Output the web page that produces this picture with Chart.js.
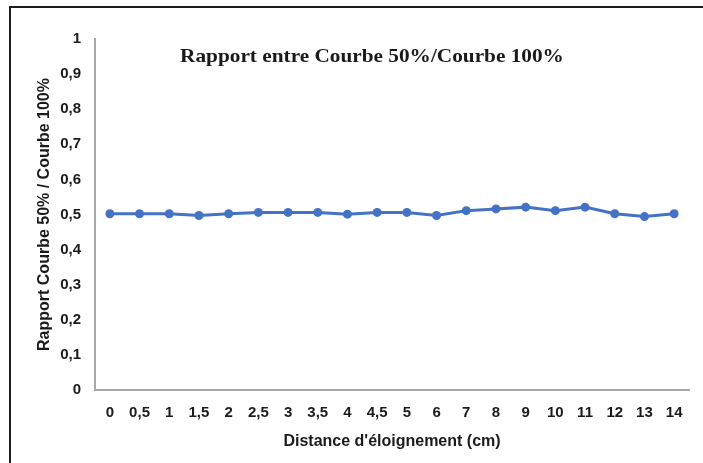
<!DOCTYPE html>
<html lang="fr">
<head>
    <meta charset="UTF-8">
    <title>Rapport entre Courbe 50%/Courbe 100%</title>
    <style>
        html, body { margin: 0; padding: 0; background: #fff; }
        #cadre {
            position: relative;
            width: 703px;
            height: 463px;
        }
        #bord {
            position: absolute;
            left: 9px;
            top: 6px;
            right: 0;
            bottom: 0;
            border-top: 2px solid #1c1c1c;
            border-left: 2px solid #1c1c1c;
            pointer-events: none;
        }
        canvas { position: absolute; left: 0; top: 0; }
    </style>
</head>
<body>
    <div id="cadre">
        <canvas id="graphe" width="703" height="463"></canvas>
        <div id="bord"></div>
    </div>

    <script src="https://cdn.jsdelivr.net/npm/chart.js"></script>

    <script>
        // distances (cm) et rapport mesuré
        const distances = ["0", "0,5", "1", "1,5", "2", "2,5", "3", "3,5", "4", "4,5", "5", "6", "7", "8", "9", "10", "11", "12", "13", "14"];
        const rapport = [0.502, 0.502, 0.502, 0.497, 0.502, 0.506, 0.506, 0.506, 0.501, 0.506, 0.506, 0.497, 0.511, 0.516, 0.521, 0.511, 0.521, 0.502, 0.494, 0.502];
        const ticksY = [0, 0.1, 0.2, 0.3, 0.4, 0.5, 0.6, 0.7, 0.8, 0.9, 1];

        const bleu = '#4472C4';
        const texte = '#1a1a1a';
        const police = "'Liberation Sans', Arial, sans-serif";

        // titre posé dans la zone du graphe, un peu élargi
        const titreInterne = {
            id: 'titreInterne',
            afterDraw(chart) {
                const { ctx, chartArea } = chart;
                const cx = (chartArea.left + chartArea.right) / 2 - 20;
                ctx.save();
                ctx.translate(cx, chartArea.top + 18);
                ctx.scale(1.12, 1);
                ctx.font = "bold 19px 'Liberation Serif', 'Times New Roman', serif";
                ctx.fillStyle = texte;
                ctx.textAlign = 'center';
                ctx.textBaseline = 'middle';
                ctx.fillText('Rapport entre Courbe 50%/Courbe 100%', 0, 0);
                ctx.restore();
            }
        };

        new Chart(document.getElementById('graphe'), {
            type: 'line',
            data: {
                labels: distances,
                datasets: [{
                    label: 'Rapport',
                    data: rapport,
                    borderColor: bleu,
                    backgroundColor: bleu,
                    borderWidth: 3,
                    pointRadius: 4.5,
                    pointHoverRadius: 4.5,
                    pointBackgroundColor: bleu,
                    pointBorderWidth: 0,
                    tension: 0
                }]
            },
            options: {
                responsive: false,
                animation: false,
                layout: { padding: { left: 10, right: 14, top: 39, bottom: 0 } },
                plugins: {
                    legend: { display: false },
                    tooltip: { enabled: false }
                },
                scales: {
                    x: {
                        offset: true,
                        grid: { display: false, drawTicks: false },
                        border: { display: true, color: '#a8a8a8', width: 2 },
                        ticks: {
                            color: texte,
                            padding: 14,
                            maxRotation: 0,
                            autoSkip: false,
                            font: { family: police, size: 15, weight: 'bold' }
                        },
                        title: {
                            display: true,
                            text: "Distance d'éloignement (cm)",
                            color: texte,
                            padding: { top: 0, bottom: 12 },
                            font: { family: police, size: 16, weight: 'bold' }
                        },
                        afterFit(scale) { scale.height = 73; }
                    },
                    y: {
                        min: 0,
                        max: 1,
                        afterBuildTicks(scale) {
                            scale.ticks = ticksY.map(v => ({ value: v }));
                        },
                        grid: { display: false, drawTicks: false },
                        border: { display: true, color: '#a8a8a8', width: 2 },
                        ticks: {
                            color: texte,
                            padding: 14,
                            font: { family: police, size: 15, weight: 'bold' },
                            callback: v => String(v).replace('.', ',')
                        },
                        title: {
                            display: true,
                            text: 'Rapport Courbe 50% / Courbe 100%',
                            color: texte,
                            padding: { top: 25, bottom: 0 },
                            font: { family: police, size: 16, weight: 'bold' }
                        },
                        afterFit(scale) { scale.width = 85; }
                    }
                }
            },
            plugins: [titreInterne]
        });
    </script>
</body>
</html>
